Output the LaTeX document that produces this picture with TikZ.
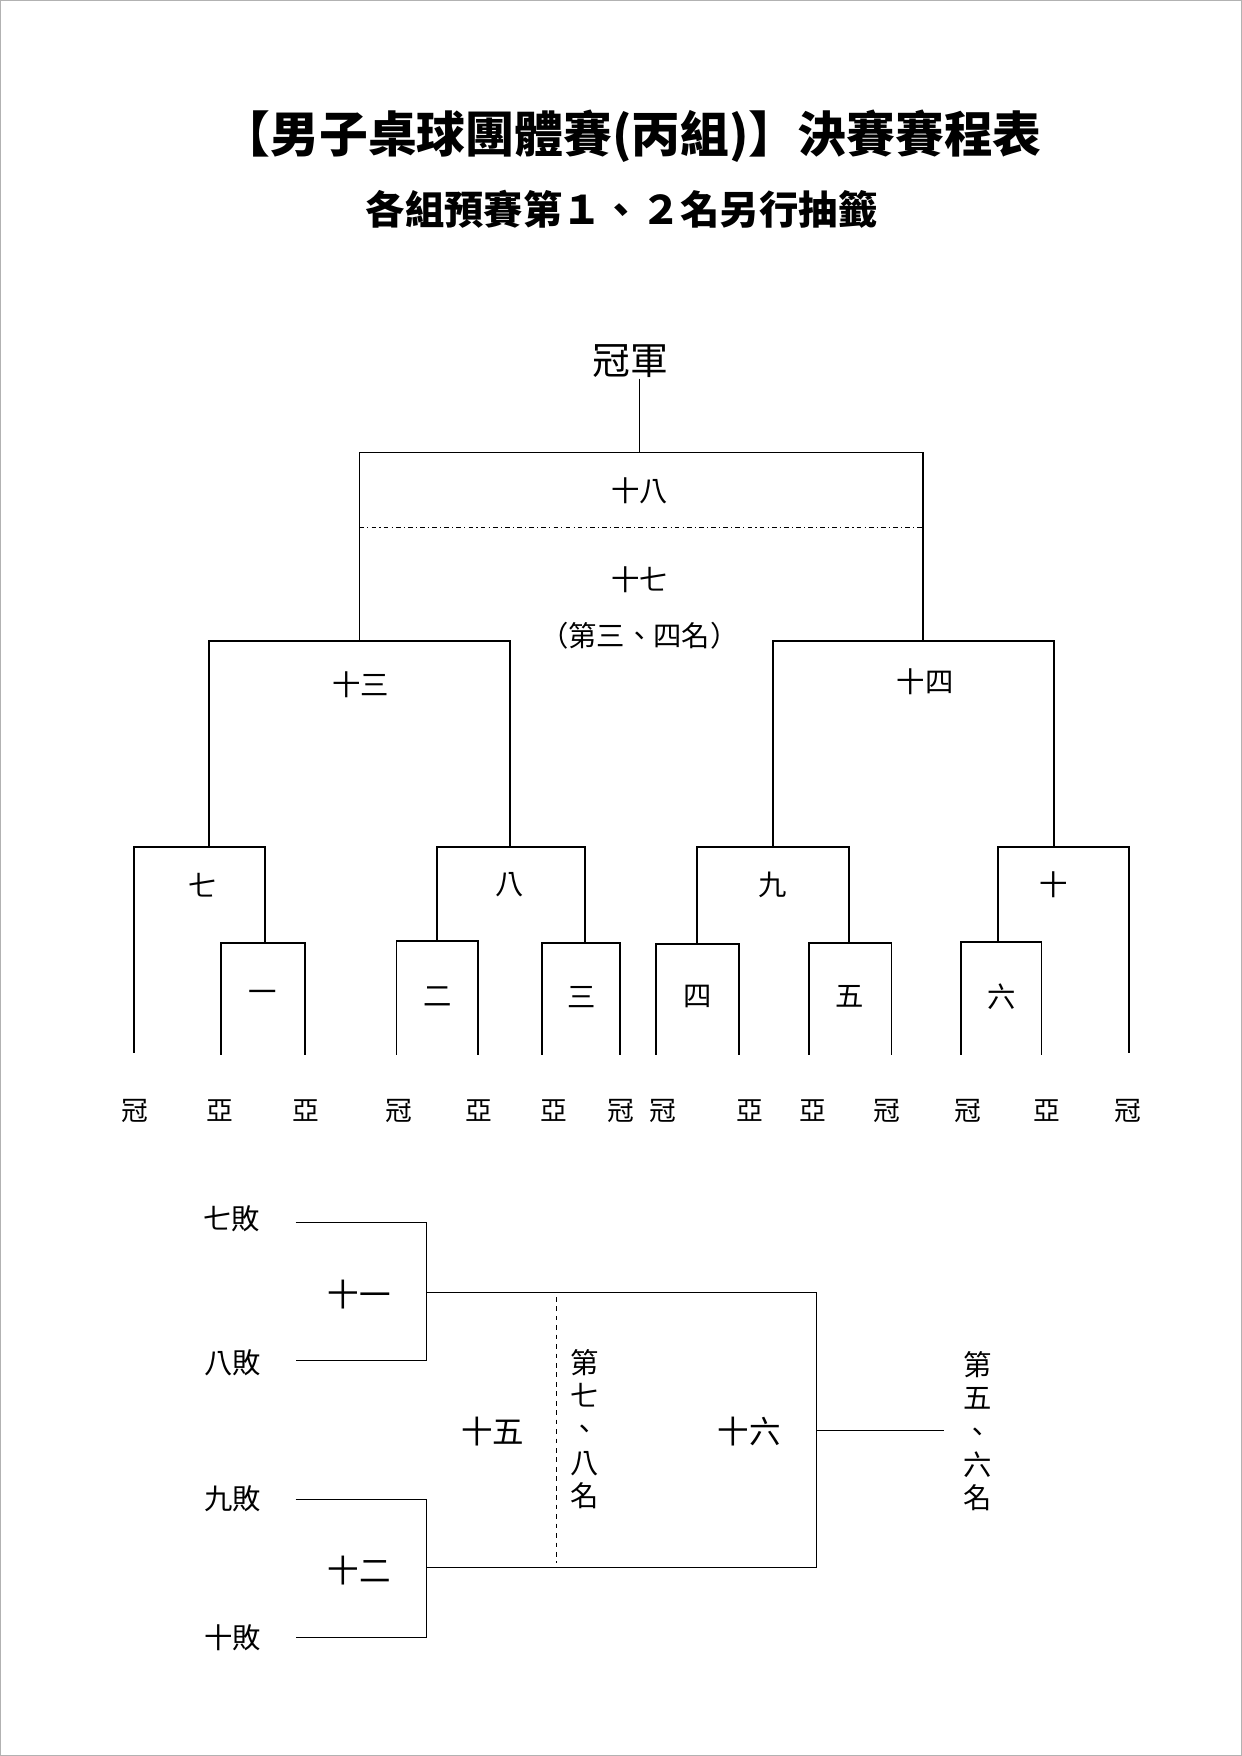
\documentclass[tikz,border=0pt]{standalone}
\usepackage{fontspec}
\setmainfont{Noto Sans CJK TC}
\begin{document}
\begin{tikzpicture}[x=0.025cm,y=-0.025cm,
    brk/.style={line width=1.2pt},
    thin/.style={line width=0.7pt},
    lab/.style={font=\fontsize{18}{20}\selectfont},
    big/.style={font=\fontsize{20}{22}\selectfont},
    res/.style={font=\fontsize{17}{19}\selectfont},
    vert/.style={font=\fontsize{18}{21.2}\selectfont, align=center, inner sep=0pt}]
        \useasboundingbox (0,0) rectangle (1109,1568);
        \draw[gray!60, line width=0.8pt] (0.5,0.5) rectangle (1108.5,1567.5);

        % title
        \node[font=\fontsize{31}{34}\selectfont\bfseries] (title) at (564,122) {【男子桌球團體賽(丙組)】決賽賽程表};
        \node[font=\fontsize{25}{28}\selectfont\bfseries] (sub) at (555,187) {各組預賽第１、２名另行抽籤};
        \node[font=\fontsize{24}{26}\selectfont] (champ) at (563,322) {冠軍};

        % final
        \draw[brk] (571,338) -- (571,404);
        \draw[brk] (321,572) -- (321,404) -- (824,404) -- (824,572);
        \draw[thin, dash dot] (321,471) -- (824,471);
        \node[lab] (m18) at (571,438) {十八};
        \node[lab] (m17) at (571,518) {十七};
        \node[lab] (p34) at (571,568) {（第三、四名）};

        % semifinals
        \draw[brk] (187,756) -- (187,572) -- (455,572) -- (455,756);
        \node[lab] (m13) at (322,611) {十三};
        \draw[brk] (690,756) -- (690,572) -- (941,572) -- (941,756);
        \node[lab] (m14) at (826,609) {十四};

        % second round
        \foreach \l/\lb/\r/\rb/\lx/\t [count=\i] in {120/940/237/842/181/七, 390/840/522/842/455/八, 622/843/758/842/690/九, 891/841/1008/940/941/十} {
          \draw[brk] (\l,\lb) -- (\l,756) -- (\r,756) -- (\r,\rb);
          \node[lab] (q\i) at (\lx,790) {\t};
        }

        % first round
        \foreach \l/\r/\top/\t [count=\i] in {197/272/842/一, 354/427/840/二, 484/554/842/三, 586/660/843/四, 722/796/842/五, 858/930/841/六} {
          \draw[brk] (\l,942) -- (\l,\top) -- (\r,\top) -- (\r,942);
          \node[lab] (r\i) at ({(\l+\r)/2},890) {\t};
        }

        % seeds
        \foreach \x/\t [count=\i] in {120/冠, 196/亞, 273/亞, 356/冠, 428/亞, 495/亞, 554/冠, 592/冠, 670/亞, 726/亞, 792/冠, 864/冠, 935/亞, 1007/冠} {
          \node[res] (s\i) at (\x,992) {\t};
        }

        % places 5-8
        \node[lab] (l7) at (207,1088) {七敗};
        \node[lab] (l8) at (208,1217) {八敗};
        \node[lab] (l9) at (208,1338) {九敗};
        \node[lab] (l10) at (208,1462) {十敗};
        \draw[thin] (264,1092) -- (381,1092) -- (381,1215) -- (264,1215);
        \draw[thin] (264,1339) -- (381,1339) -- (381,1462) -- (264,1462);
        \node[big] (m11) at (321,1156) {十一};
        \node[big] (m12) at (321,1402) {十二};
        \draw[thin] (381,1154) -- (729,1154) -- (729,1400) -- (381,1400);
        \draw[thin, dashed] (497,1158) -- (497,1396);
        \node[big] (m15) at (440,1278) {十五};
        \node[vert] (p78) at (522,1276) {第\\七\\、\\八\\名};
        \node[big] (m16) at (669,1278) {十六};
        \draw[thin] (729,1277) -- (843,1277);
        \node[vert] (p56) at (873,1278) {第\\五\\、\\六\\名};

\end{tikzpicture}
\end{document}
